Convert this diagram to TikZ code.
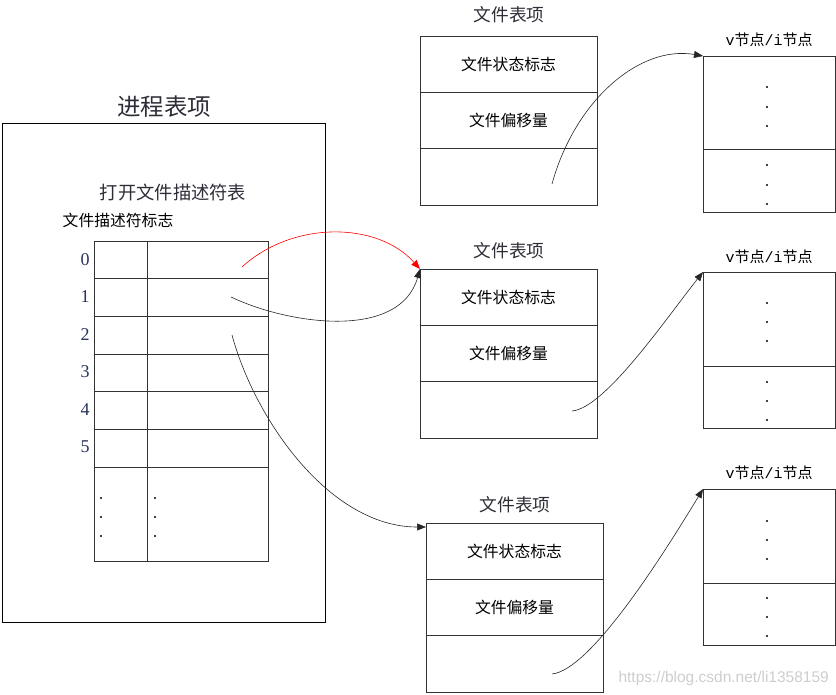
\documentclass[tikz,border=0pt]{standalone}
\usepackage{fontspec}
\setmainfont{Liberation Serif}
\newfontfamily\cjk{Noto Sans CJK SC}
\newfontfamily\monof{Liberation Mono}
\newfontfamily\wmfont{Liberation Sans}
\usetikzlibrary{arrows.meta,calc}
\definecolor{numcol}{RGB}{40,50,90}
\definecolor{ttl}{RGB}{45,45,55}
\definecolor{wmgray}{RGB}{205,205,205}
\begin{document}
\begin{tikzpicture}[x=1pt,y=-1pt,
  cell/.style={draw=black!80, line width=0.8pt, inner sep=0pt, outer sep=0pt, anchor=north west,
               font=\cjk\fontsize{15.8}{16}\selectfont},
  ttlnode/.style={inner sep=0pt, text=ttl},
  num/.style={inner sep=0pt, text=numcol, font=\fontsize{18}{18}\selectfont},
  conn/.style={line width=0.6pt, black!85, -{Triangle[length=9pt,width=7pt]}},
  redconn/.style={line width=0.6pt, red, -{Triangle[length=9pt,width=7pt]}},
  dot/.style={fill=black},
]
\useasboundingbox (0,0) rectangle (836,694);

% ---------- process table entry ----------
\node[draw=black, line width=0.8pt, inner sep=0pt, outer sep=0pt, anchor=north west,
      minimum width=323pt, minimum height=499pt] (proc) at (2,123) {};
\node[ttlnode, font=\cjk\fontsize{23.5}{24}\selectfont] (proct) at (164,107) {进程表项};
\node[ttlnode, font=\cjk\fontsize{18.3}{19}\selectfont] (fdt) at (173,193) {打开文件描述符表};
\node[inner sep=0pt, font=\cjk\fontsize{15.8}{16}\selectfont] (fdflag) at (118,220) {文件描述符标志};

% descriptor table
\foreach \i in {0,...,5}{
  \node[cell, minimum width=53pt, minimum height=37.67pt] (l\i) at (94,241+37.67*\i) {};
  \node[cell, minimum width=121pt, minimum height=37.67pt] (r\i) at (147,241+37.67*\i) {};
  \node[num] (n\i) at (85,259.5+37.4*\i) {\i};
}
\node[cell, minimum width=53pt, minimum height=94pt] (l6) at (94,467) {};
\node[cell, minimum width=121pt, minimum height=94pt] (r6) at (147,467) {};
\foreach \yy in {498,517,536}{
  \fill[dot] (101,\yy) circle (1.1pt);
  \fill[dot] (155,\yy) circle (1.1pt);
}

% ---------- file table entries ----------
\foreach \t/\x/\y in {a/420/36, b/420/269, c/426/523}{
  \node[cell, minimum width=177pt, minimum height=56.3pt] (\t1) at (\x,\y) {文件状态标志};
  \node[cell, minimum width=177pt, minimum height=56.3pt] (\t2) at (\x,\y+56.3) {文件偏移量};
  \node[cell, minimum width=177pt, minimum height=56.3pt] (\t3) at (\x,\y+112.6) {};
}
\node[ttlnode, font=\cjk\fontsize{17.7}{18}\selectfont] (at) at (509,15) {文件表项};
\node[ttlnode, font=\cjk\fontsize{17.7}{18}\selectfont] (bt) at (509,251) {文件表项};
\node[ttlnode, font=\cjk\fontsize{17.7}{18}\selectfont] (ct) at (515,505) {文件表项};

% ---------- v-node / i-node ----------
\foreach \v/\top/\mid/\bot in {v1/56/149/212, v2/272/366/428, v3/489/583/645}{
  \node[cell, minimum width=132pt, minimum height=\mid-\top] (\v a) at (703,\top) {};
  \node[cell, minimum width=132pt, minimum height=\bot-\mid] (\v b) at (703,\mid) {};
}
\foreach \yy in {87,107,126,165,185,204, 303,322,341,382,401,420, 521,540,559,598,617,636}{
  \fill[dot] (767,\yy) circle (1.1pt);
}
\node[inner sep=0pt, font=\cjk\fontsize{15}{16}\selectfont] (v1t) at (769,40) {{\monof v}节点{\monof /i}节点};
\node[inner sep=0pt, font=\cjk\fontsize{15}{16}\selectfont] (v2t) at (769,257) {{\monof v}节点{\monof /i}节点};
\node[inner sep=0pt, font=\cjk\fontsize{15}{16}\selectfont] (v3t) at (769,473) {{\monof v}节点{\monof /i}节点};

% ---------- connectors ----------
\coordinate (s0) at (242,267);
\coordinate (s1) at (231,297);
\coordinate (s2) at (232,335);
\coordinate (sa) at (552,184);
\coordinate (sb) at (572,411);
\coordinate (sc) at (552,674);

\draw[redconn] (s0) .. controls (292,221) and (377,221) .. (b1.north west);
\draw[conn] (s1) .. controls (290,325) and (400,340) .. (b1.north west);
\draw[conn] (s2) .. controls (255,420) and (330,527) .. ($(c1.north west)+(0,4)$);
\draw[conn] (sa) .. controls (575,100) and (640,45) .. (v1a.north west);
\draw[conn] (sb) .. controls (605,408) and (665,320) .. (v2a.north west);
\draw[conn] (sc) .. controls (590,670) and (660,560) .. (v3a.north west);

% watermark
\node[inner sep=0pt, anchor=east, text=wmgray, font=\wmfont\fontsize{15.5}{16}\selectfont] (wm) at (829,678) {https://blog.csdn.net/li1358159};
\end{tikzpicture}
\end{document}
